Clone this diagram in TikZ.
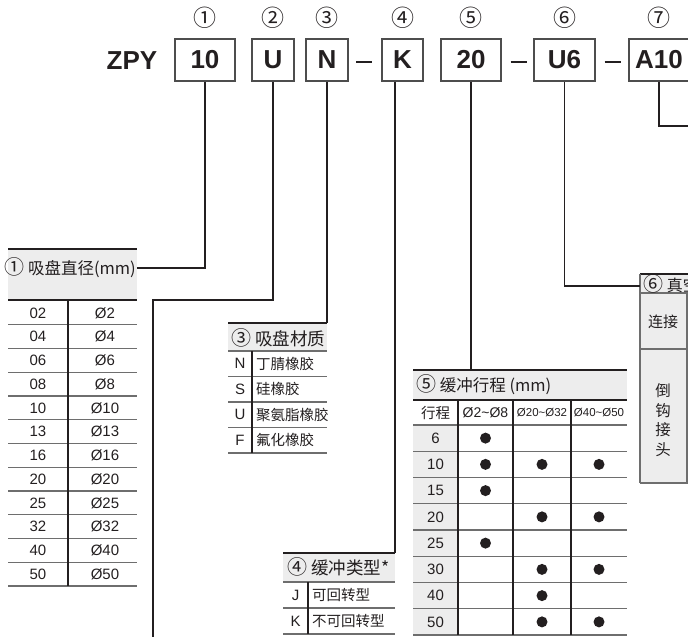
\documentclass[tikz,border=0pt]{standalone}
\usepackage{fontspec}
\setmainfont{Liberation Sans}
\newfontfamily\cjk{Noto Sans CJK SC}
\definecolor{ink}{HTML}{231F20}
\definecolor{hdr}{HTML}{EDEDED}
\definecolor{rule}{HTML}{6E6E6E}
\definecolor{boxline}{HTML}{4D4D4D}
\newcommand\circnum[1]{{\fontsize{20}{20}\selectfont #1}}

\begin{document}
\begin{tikzpicture}[x=1pt, y=-1pt, color=ink,
    codebox/.style={draw=boxline, line width=1.2pt, fill=white, minimum height=42, inner sep=0pt,
      font=\bfseries\fontsize{26}{26}\selectfont},
    num/.style={font=\cjk\fontsize{23}{23}\selectfont, inner sep=0pt},
    link/.style={draw=ink, line width=1.3pt},
    hdtext/.style={font=\cjk\fontsize{16.5}{16.5}\selectfont, inner sep=1pt},
    cell/.style={font=\fontsize{15}{15}\selectfont, inner sep=0pt},
    small/.style={font=\fontsize{11.5}{11.5}\selectfont, inner sep=0pt},
    cjkcell/.style={font=\cjk\fontsize{14.5}{14.5}\selectfont, inner sep=0pt},
    dot/.style={circle, fill=ink, minimum size=11, inner sep=0pt},
    rowline/.style={draw=rule, line width=1.2pt},
    darkline/.style={draw=ink, line width=1.2pt},
    topline/.style={draw=ink, line width=2pt}]
\useasboundingbox (0,0) rectangle (688,637);
\clip (0,0) rectangle (688,637);

% model code
\node[font=\bfseries\fontsize{26}{26}\selectfont, inner sep=0pt] (zpy) at (132,61) {ZPY};
\node[codebox, minimum width=60] (b1) at (205,60) {10};
\node[codebox, minimum width=42] (b2) at (273,60) {U};
\node[codebox, minimum width=42] (b3) at (327,60) {N};
\node[codebox, minimum width=41] (b4) at (402.5,60) {K};
\node[codebox, minimum width=60] (b5) at (471,60) {20};
\node[codebox, minimum width=61] (b6) at (564.5,60) {U6};
\node[codebox, minimum width=60] (b7) at (659,60) {A10};
\node[inner sep=0pt] (d1) at (364,62) {\rule{16pt}{1.3pt}};
\node[inner sep=0pt] (d2) at (518.5,62) {\rule{16pt}{1.3pt}};
\node[inner sep=0pt] (d3) at (612.5,62) {\rule{16pt}{1.3pt}};
\foreach \c/\x [count=\i] in {①/205, ②/273, ③/327, ④/402.5, ⑤/471, ⑥/564.5, ⑦/659}
  \node[num] (n\i) at (\x,18) {\c};

% 1: diameter
\fill[hdr] (8,249) rectangle (137,300);
\draw[topline] (8,249) -- (137,249);
\draw[darkline] (8,300) -- (137,300);
\node[hdtext, anchor=east] (h1) at (137,268) {\circnum{①} 吸盘直径(mm)};
\foreach \a/\b [count=\i] in {02/Ø2, 04/Ø4, 06/Ø6, 08/Ø8, 10/Ø10, 13/Ø13, 16/Ø16,
    20/Ø20, 25/Ø25, 32/Ø32, 40/Ø40, 50/Ø50} {
  \node[cell] (dia\i) at (38,{301+(\i-0.5)*23.75}) {\a};
  \node[cell] (phi\i) at (105,{301+(\i-0.5)*23.75}) {\b};
  \draw[rowline] (8,{301+\i*23.75}) -- (137,{301+\i*23.75});
}
\draw[darkline] (68,300) -- (68,586);

% 3: material
\fill[hdr] (228,323) rectangle (327,351);
\draw[darkline] (228,323) -- (327,323);
\draw[rowline] (228,351) -- (327,351);
\node[hdtext, anchor=west, font=\cjk\fontsize{17.5}{17.5}\selectfont] (h3) at (230,338) {\circnum{③} 吸盘材质};
\foreach \a/\b [count=\i] in {N/丁腈橡胶, S/硅橡胶, U/聚氨脂橡胶, F/氟化橡胶} {
  \node[cell] (mat\i) at (240,{351+(\i-0.5)*25.5}) {\a};
  \node[cjkcell, anchor=west] (matn\i) at (256,{351+(\i-0.5)*25.5}) {\b};
  \draw[rowline] (228,{351+\i*25.5}) -- (327,{351+\i*25.5});
}
\draw[darkline] (252,351) -- (252,453);

% 4: buffer type
\fill[hdr] (283,553) rectangle (395,582);
\draw[darkline] (283,553) -- (395,553);
\draw[rowline] (283,582) -- (395,582);
\node[hdtext, anchor=west, font=\cjk\fontsize{17.5}{17.5}\selectfont] (h4) at (286,567) {\circnum{④} 缓冲类型*};
\foreach \a/\b [count=\i] in {J/可回转型, K/不可回转型} {
  \node[cell] (typ\i) at (295.5,{582+(\i-0.5)*26}) {\a};
  \node[cjkcell, anchor=west] (typn\i) at (312,{582+(\i-0.5)*26}) {\b};
  \draw[rowline] (283,{582+\i*26}) -- (395,{582+\i*26});
}
\draw[darkline] (308,582) -- (308,634);

% 5: stroke
\fill[hdr] (413,370) rectangle (627,400);
\fill[hdr] (413,425) rectangle (458,635);
\draw[darkline] (413,370) -- (627,370);
\draw[darkline] (413,400) -- (627,400);
\node[hdtext, anchor=west] (h5) at (415,385) {\circnum{⑤} 缓冲行程 (mm)};
\node[cjkcell, font=\cjk\fontsize{14.5}{14.5}\selectfont] (st0) at (435.5,412.5) {行程};
\node[cell, font=\fontsize{14}{14}\selectfont] (ra1) at (485.5,412.5) {Ø2\char`~Ø8};
\node[small] (ra2) at (542,412.5) {Ø20\char`~Ø32};
\node[small] (ra3) at (599,412.5) {Ø40\char`~Ø50};
\draw[rowline] (413,425) -- (627,425);
\foreach \s/\p/\q/\r [count=\i] in {6/1/0/0, 10/1/1/1, 15/1/0/0, 20/0/1/1,
    25/1/0/0, 30/0/1/1, 40/0/1/0, 50/0/1/1} {
  \pgfmathsetmacro\yy{425+(\i-0.5)*26.25}
  \node[cell] (st\i) at (435.5,\yy) {\s};
  \ifnum\p=1 \node[dot] (ka\i) at (485.5,\yy) {}; \fi
  \ifnum\q=1 \node[dot] (kb\i) at (542,\yy) {}; \fi
  \ifnum\r=1 \node[dot] (kc\i) at (599,\yy) {}; \fi
  \draw[rowline] (413,{425+\i*26.25}) -- (627,{425+\i*26.25});
}
\foreach \x in {458,513,571}
  \draw[darkline] (\x,400) -- (\x,635);

% 6: vacuum connection
\fill[hdr] (640,274) rectangle (690,483);
\draw[darkline] (640,274) -- (690,274);
\draw[rowline] (640,293) -- (690,293);
\draw[rowline] (640,349) -- (690,349);
\draw[rowline] (640,483) -- (690,483);
\draw[rowline] (640,274) -- (640,483);
\draw[rowline] (687,293) -- (687,483);
\node[hdtext, anchor=west, font=\cjk\fontsize{16}{16}\selectfont] (h6) at (642,284) {\circnum{⑥} 真空};
\node[cjkcell, font=\cjk\fontsize{15}{15}\selectfont] (con) at (663,322) {连接};
\node[cjkcell, font=\cjk\fontsize{15.5}{19.5}\selectfont, align=center] (barb) at (663,420) {倒\\钩\\接\\头};

% leaders
\coordinate (k2) at (153,300);
\coordinate (e2) at (153,640);
\coordinate (t3) at (327,323);
\coordinate (t4) at (395,553);
\coordinate (t5) at (471,370);
\coordinate (t6) at (640,286);
\coordinate (e7) at (690,126);
\draw[link] (b1.south) |- (h1.east);
\draw[link] (b2.south) |- (k2) -- (e2);
\draw[link] (b3.south) -- (t3);
\draw[link] (t4 |- b4.south) -- (t4);
\draw[link] (b5.south) -- (t5);
\draw[link] (b6.south) |- (t6);
\draw[link] (b7.south) |- (e7);
\end{tikzpicture}
\end{document}
